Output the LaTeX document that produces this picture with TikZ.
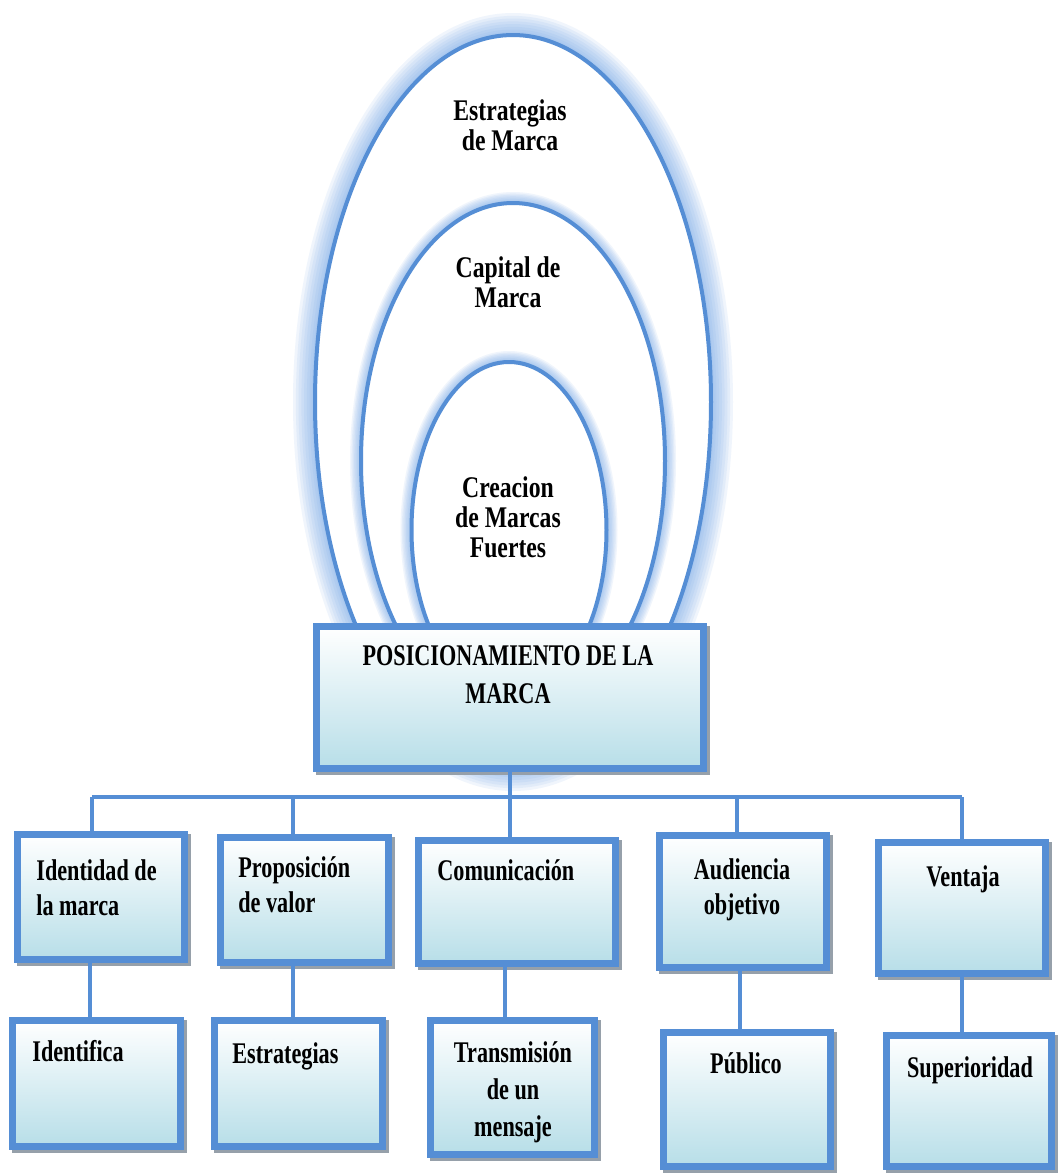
\documentclass[tikz,border=0pt]{standalone}
\usepackage{fontspec}
\usetikzlibrary{shapes.geometric}
\newfontfamily\boxfont{Liberation Serif}[FakeStretch=0.74]
\newfontfamily\ovalfont{Liberation Serif}[FakeStretch=0.79]
\definecolor{edgeblue}{RGB}{85,142,213}
\definecolor{fillblue}{RGB}{183,222,232}
\definecolor{glowblue}{RGB}{120,168,232}
\definecolor{shadowgray}{RGB}{150,160,170}

\tikzset{
  boxst/.style={rectangle, draw=edgeblue, line width=3.5pt, top color=white,
    bottom color=fillblue, inner sep=0pt, outer sep=0pt},
  link/.style={draw=edgeblue, line width=2pt},
  halo/.style={preaction={draw=glowblue, opacity=0.11, line width=#1}},
  glow/.style={
    halo=#1, halo=0.87*#1, halo=0.75*#1, halo=0.62*#1,
    halo=0.5*#1, halo=0.37*#1, halo=0.25*#1, halo=0.15*#1},
  oval/.style={ellipse, inner sep=0pt, outer sep=0pt, fill=white,
    draw=edgeblue, line width=2pt},
  boxtxt/.style={font=\boxfont\bfseries\fontsize{15}{17.5}\selectfont,
    inner sep=0pt},
  ovaltxt/.style={font=\ovalfont\bfseries\fontsize{15}{15}\selectfont,
    inner sep=0pt, align=center, anchor=base},
}

% box with a grey shadow; corners given in pixels (x1,y1) -- (x2,y2)
\newcommand\shadedbox[5]{%
  \fill[shadowgray] (#2+3,#3+3) rectangle (#4+3,#5+3);
  \node[boxst, minimum width={(#4-#2-7)*0.5pt}, minimum height={(#5-#3-7)*0.5pt}]
    (#1) at ({(#2+#4)/2},{(#3+#5)/2}) {};
}

\begin{document}
\begin{tikzpicture}[x=0.5pt, y=-0.5pt]
\useasboundingbox[fill=white] (0,0) rectangle (1058,1175);

% nested ovals
\node[oval, glow=22pt, minimum width=198pt, minimum height=367pt] (estr) at (513,402) {};
\node[oval, glow=11pt, minimum width=152pt, minimum height=258pt] (capi) at (513,461) {};
\node[oval, glow=11pt, minimum width=97.5pt, minimum height=168pt] (crea) at (509,530) {};

% junction points of the tree
\coordinate (j0) at (510,797);
\coordinate (j1) at (92,797);
\coordinate (j2) at (293,797);
\coordinate (j3) at (510,797);
\coordinate (j4) at (737,797);
\coordinate (j5) at (962,797);
\coordinate (k1) at (90,990);
\coordinate (k2) at (293,990);
\coordinate (k3) at (505,990);
\coordinate (k4) at (740,990);
\coordinate (k5) at (962,990);

% main box
\shadedbox{main}{313}{623}{707}{772}

% boxes, first row
\shadedbox{b1}{14}{831}{188}{963}
\shadedbox{b2}{217}{834}{392}{966}
\shadedbox{b3}{415}{837}{619}{967}
\shadedbox{b4}{656}{832}{830}{971}
\shadedbox{b5}{875}{839}{1049}{977}

% boxes, second row
\shadedbox{c1}{9}{1017}{184}{1150}
\shadedbox{c2}{211}{1017}{386}{1150}
\shadedbox{c3}{427}{1017}{598}{1158}
\shadedbox{c4}{660}{1029}{834}{1170}
\shadedbox{c5}{883}{1032}{1055}{1170}

% connectors
\draw[link] (main.south) -- (main.south |- j0);
\draw[link] (j1) -- (j5);
\draw[link] (j1) -- (j1 |- b1.north);
\draw[link] (j2) -- (j2 |- b2.north);
\draw[link] (j3) -- (j3 |- b3.north);
\draw[link] (j4) -- (j4 |- b4.north);
\draw[link] (j5) -- (j5 |- b5.north);
\draw[link] (k1 |- b1.south) -- (k1 |- c1.north);
\draw[link] (k2 |- b2.south) -- (k2 |- c2.north);
\draw[link] (k3 |- b3.south) -- (k3 |- c3.north);
\draw[link] (k4 |- b4.south) -- (k4 |- c4.north);
\draw[link] (k5 |- b5.south) -- (k5 |- c5.north);

% oval labels (anchored at the baseline of the last line)
\node[ovaltxt] (testr) at (510,150) {Estrategias\\de Marca};
\node[ovaltxt] (tcapi) at (508,307) {Capital de\\Marca};
\node[ovaltxt] (tcrea) at (508,557) {Creacion\\de Marcas\\Fuertes};

% box labels (anchored at the baseline of the last line)
\node[boxtxt, align=center, anchor=base, font=\boxfont\bfseries\fontsize{15}{19}\selectfont]
  (tmain) at (508,703) {POSICIONAMIENTO DE LA\\MARCA};
\node[boxtxt, align=left, anchor=base west] (tb1) at (36,915) {Identidad de\\la marca};
\node[boxtxt, align=left, anchor=base west] (tb2) at (238,912) {Proposición\\de valor};
\node[boxtxt, align=left, anchor=base west] (tb3) at (437,880) {Comunicación};
\node[boxtxt, align=center, anchor=base] (tb4) at (742,914) {Audiencia\\objetivo};
\node[boxtxt, align=center, anchor=base] (tb5) at (963,886) {Ventaja};
\node[boxtxt, align=left, anchor=base west] (tc1) at (32,1061) {Identifica};
\node[boxtxt, align=left, anchor=base west] (tc2) at (232,1063) {Estrategias};
\node[boxtxt, align=center, anchor=base, font=\boxfont\bfseries\fontsize{15}{18.5}\selectfont]
  (tc3) at (513,1136) {Transmisión\\de un\\mensaje};
\node[boxtxt, align=center, anchor=base] (tc4) at (746,1073) {Público};
\node[boxtxt, align=center, anchor=base] (tc5) at (970,1077) {Superioridad};
\end{tikzpicture}
\end{document}
